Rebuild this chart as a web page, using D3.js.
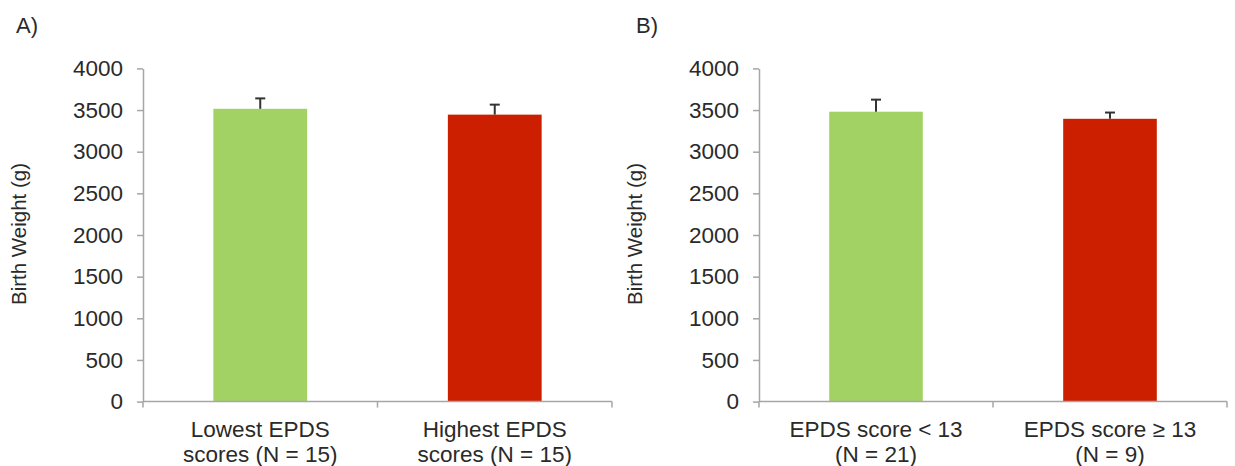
<!DOCTYPE html>
<html>
<head>
<meta charset="utf-8">
<script src="https://cdn.jsdelivr.net/npm/d3@7"></script>
<style>
  html, body { margin: 0; padding: 0; background: #fff; }
  svg { display: block; }
  text { font-family: "Liberation Sans", Arial, sans-serif; fill: #2a2a2a; }
</style>
</head>
<body>
<svg id="chart" width="1235" height="466"></svg>
<script>
// ---- Data ----
const panelLabels = ["A)", "B)"];
const categoriesA = [["Lowest EPDS", "scores (N = 15)"], ["Highest EPDS", "scores (N = 15)"]];
const categoriesB = [["EPDS score < 13", "(N = 21)"], ["EPDS score \u2265 13", "(N = 9)"]];
const valuesA = [3515, 3445];
const errorsA = [125, 120];
const valuesB = [3480, 3395];
const errorsB = [145, 75];
const barColors = ["#a2d264", "#cc1f00"];
const yTicks = [0, 500, 1000, 1500, 2000, 2500, 3000, 3500, 4000];
const yTitle = "Birth Weight (g)";

const svg = d3.select("#chart");
const axisColor = "#a6a6a6";

function drawPanel(opts) {
  const { label, cats, values, errors, x0, x1, labelX } = opts;
  const y = d3.scaleLinear().domain([0, 4000]).range([401.6, 68.4]);
  const keys = cats.map(c => c.join(" "));
  const x = d3.scaleBand().domain(keys).range([x0, x1]).paddingInner(0).paddingOuter(0);
  const g = svg.append("g");

  // panel label
  g.append("text").attr("x", labelX).attr("y", 33).attr("font-size", 22).text(label);

  // y axis title
  g.append("text")
    .attr("transform", `translate(${x0 - 117},${y(2000) - 1}) rotate(-90)`)
    .attr("text-anchor", "middle")
    .attr("font-size", 20.5)
    .text(yTitle);

  // bars
  const bw = x.bandwidth() * 0.4;
  g.selectAll("rect.bar").data(values).enter().append("rect")
    .attr("x", (d, i) => x(keys[i]) + x.bandwidth() / 2 - bw / 2)
    .attr("y", d => y(d))
    .attr("width", bw)
    .attr("height", d => y(0) - y(d))
    .attr("fill", (d, i) => barColors[i]);

  // error bars (upper only)
  values.forEach((v, i) => {
    const cx = x(keys[i]) + x.bandwidth() / 2;
    g.append("line").attr("x1", cx).attr("x2", cx)
      .attr("y1", y(v)).attr("y2", y(v + errors[i]))
      .attr("stroke", "#333").attr("stroke-width", 2);
    g.append("line").attr("x1", cx - 5).attr("x2", cx + 5)
      .attr("y1", y(v + errors[i])).attr("y2", y(v + errors[i]))
      .attr("stroke", "#333").attr("stroke-width", 2);
  });

  // y axis
  const ya = g.append("g").attr("transform", `translate(${x0},0)`)
    .call(d3.axisLeft(y).tickValues(yTicks).tickFormat(d3.format("d"))
      .tickSize(6).tickSizeOuter(0).tickPadding(14));
  ya.select(".domain").attr("stroke", axisColor).attr("stroke-width", 1.5);
  ya.selectAll(".tick line").attr("stroke", axisColor).attr("stroke-width", 1.5);
  ya.selectAll(".tick text").attr("font-size", 22.5)
    .attr("font-family", "Liberation Sans, Arial, sans-serif").attr("fill", "#2a2a2a");

  // x axis line
  g.append("line").attr("x1", x0).attr("x2", x1).attr("y1", y(0)).attr("y2", y(0))
    .attr("stroke", axisColor).attr("stroke-width", 1.5);
  // boundary ticks
  const bounds = keys.map(k => x(k)).concat([x1]);
  g.selectAll("line.xt").data(bounds).enter().append("line")
    .attr("x1", d => d).attr("x2", d => d)
    .attr("y1", y(0)).attr("y2", y(0) + 6)
    .attr("stroke", axisColor).attr("stroke-width", 1.5);

  // category labels
  cats.forEach((c, i) => {
    const cx = x(keys[i]) + x.bandwidth() / 2;
    const t = g.append("text").attr("text-anchor", "middle").attr("font-size", 22.5);
    c.forEach((line, j) => {
      t.append("tspan").attr("x", cx).attr("y", 437 + j * 25).text(line);
    });
  });
}

drawPanel({ label: panelLabels[0], cats: categoriesA, values: valuesA, errors: errorsA, x0: 143, x1: 612, labelX: 16 });
drawPanel({ label: panelLabels[1], cats: categoriesB, values: valuesB, errors: errorsB, x0: 759, x1: 1227, labelX: 636 });
</script>
</body>
</html>
